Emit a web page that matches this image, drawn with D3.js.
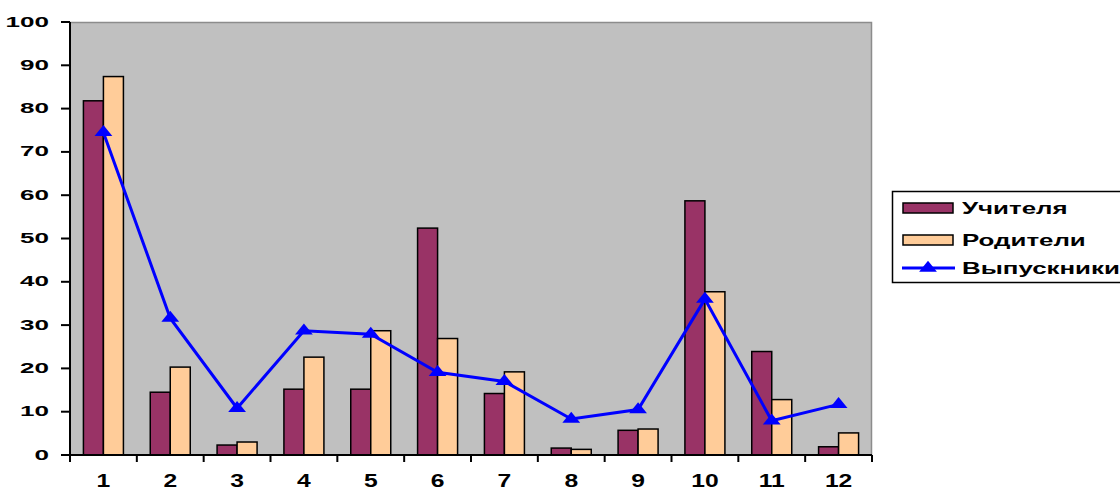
<!DOCTYPE html>
<html>
<head>
<meta charset="utf-8">
<script src="https://cdn.jsdelivr.net/npm/d3@7"></script>
<style>
  body { margin: 0; background: #fff; }
  text { font-family: "Liberation Sans", Arial, sans-serif; font-weight: bold; fill: #000; }
</style>
</head>
<body>
<script>
// #Data
const categories = ['1', '2', '3', '4', '5', '6', '7', '8', '9', '10', '11', '12'];
const teachers   = [81.8, 14.5, 2.3, 15.2, 15.2, 52.4, 14.2, 1.6, 5.7, 58.7, 23.9, 1.9];
const parents    = [87.4, 20.3, 3.0, 22.6, 28.7, 26.9, 19.2, 1.3, 6.0, 37.7, 12.8, 5.1];
const graduates  = [74.5, 31.6, 10.8, 28.7, 27.9, 19.1, 17.0, 8.3, 10.5, 36.0, 7.9, 11.7];
const yTicks     = [0, 10, 20, 30, 40, 50, 60, 70, 80, 90, 100];
const seriesNames = ['Учителя', 'Родители', 'Выпускники'];

// #Define SVG
const width = 1120, height = 491;
const plot = {left: 70, top: 22, right: 872, bottom: 455};

const svg = d3.select('body')
              .append('svg')
              .attr('width', width)
              .attr('height', height);

// #Scales
const x = d3.scaleBand()
            .domain(categories)
            .range([plot.left, plot.right]);

const xInner = d3.scaleBand()
                 .domain(['t', 'p'])
                 .range([0, 40]);

const y = d3.scaleLinear()
            .domain([0, 100])
            .range([plot.bottom, plot.top]);

// #Plot background
svg.append('rect')
   .attr('x', plot.left)
   .attr('y', plot.top)
   .attr('width', plot.right - plot.left)
   .attr('height', plot.bottom - plot.top)
   .attr('fill', '#c0c0c0');

svg.append('path')
   .attr('d', `M${plot.left},${plot.top + 0.5}H${plot.right - 0.5}V${plot.bottom}`)
   .attr('fill', 'none')
   .attr('stroke', '#8c8c8c')
   .attr('stroke-width', 1.5);

// #Bars
const bars = svg.append('g').attr('class', 'bars');
const groupOffset = x.bandwidth() / 2 - 20;

const drawBars = (values, key, color) => {
    bars.append('g')
        .selectAll('rect')
        .data(values)
        .enter()
        .append('rect')
        .attr('x', (d, i) => x(categories[i]) + groupOffset + xInner(key))
        .attr('y', d => y(d))
        .attr('width', xInner.bandwidth())
        .attr('height', d => y(0) - y(d))
        .attr('fill', color)
        .attr('stroke', '#000')
        .attr('stroke-width', 1.5);
};

drawBars(teachers, 't', '#993366');
drawBars(parents, 'p', '#ffcc99');

// #Axes
const yAxis = svg.append('g');
yAxis.append('line')
     .attr('x1', plot.left).attr('x2', plot.left)
     .attr('y1', plot.top).attr('y2', plot.bottom)
     .attr('stroke', '#000').attr('stroke-width', 2);

yAxis.selectAll('.tick')
     .data(yTicks)
     .enter()
     .append('line')
     .attr('x1', plot.left - 9).attr('x2', plot.left)
     .attr('y1', d => y(d)).attr('y2', d => y(d))
     .attr('stroke', '#000').attr('stroke-width', 2);

// the original picture is stretched sideways, so the text is too
yAxis.selectAll('text')
     .data(yTicks)
     .enter()
     .append('text')
     .attr('transform', d => `translate(49,${y(d) + 4.5}) scale(1.68,1)`)
     .attr('text-anchor', 'end')
     .style('font-size', '15.5px')
     .text(d => d);

const xAxis = svg.append('g');
xAxis.append('line')
     .attr('x1', plot.left - 9).attr('x2', plot.right)
     .attr('y1', plot.bottom).attr('y2', plot.bottom)
     .attr('stroke', '#000').attr('stroke-width', 2);

xAxis.selectAll('.tick')
     .data(categories.concat(['end']))
     .enter()
     .append('line')
     .attr('x1', (d, i) => plot.left + i * x.step())
     .attr('x2', (d, i) => plot.left + i * x.step())
     .attr('y1', plot.bottom).attr('y2', plot.bottom + 7)
     .attr('stroke', '#000').attr('stroke-width', 2);

xAxis.selectAll('text')
     .data(categories)
     .enter()
     .append('text')
     .attr('transform', d => `translate(${x(d) + x.bandwidth() / 2},487) scale(1.37,1)`)
     .attr('text-anchor', 'middle')
     .style('font-size', '18px')
     .text(d => d);

// #Line with triangle markers
const triangle = d3.symbol().type(d3.symbolTriangle).size(70);

const line = d3.line()
               .x((d, i) => x(categories[i]) + x.bandwidth() / 2)
               .y(d => y(d));

svg.append('path')
   .datum(graduates)
   .attr('d', line)
   .attr('fill', 'none')
   .attr('stroke', '#0000ff')
   .attr('stroke-width', 3);

svg.append('g')
   .selectAll('path')
   .data(graduates)
   .enter()
   .append('path')
   .attr('d', triangle)
   .attr('transform', (d, i) => `translate(${x(categories[i]) + x.bandwidth() / 2},${y(d)}) scale(1.4,1)`)
   .attr('fill', '#0000ff');

// #Legend
const legend = svg.append('g').attr('transform', 'translate(892,191)');

legend.append('rect')
      .attr('x', 0.5).attr('y', 0.5)
      .attr('width', 240).attr('height', 91)
      .attr('fill', '#fff')
      .attr('stroke', '#000')
      .attr('stroke-width', 1.5);

const legendRows = [17, 49, 77];
['#993366', '#ffcc99'].forEach((c, i) => {
    legend.append('rect')
          .attr('x', 11).attr('y', legendRows[i] - 5)
          .attr('width', 50).attr('height', 10)
          .attr('fill', c)
          .attr('stroke', '#000')
          .attr('stroke-width', 1.5);
});

legend.append('line')
      .attr('x1', 10).attr('x2', 63)
      .attr('y1', legendRows[2]).attr('y2', legendRows[2])
      .attr('stroke', '#0000ff').attr('stroke-width', 3);

legend.append('path')
      .attr('d', triangle)
      .attr('transform', `translate(36,${legendRows[2]}) scale(1.4,1)`)
      .attr('fill', '#0000ff');

legend.selectAll('text')
      .data(seriesNames)
      .enter()
      .append('text')
      .attr('transform', (d, i) => `translate(70,${legendRows[i] + 6}) scale(1.55,1)`)
      .style('font-size', '16.7px')
      .text(d => d);
</script>
</body>
</html>
